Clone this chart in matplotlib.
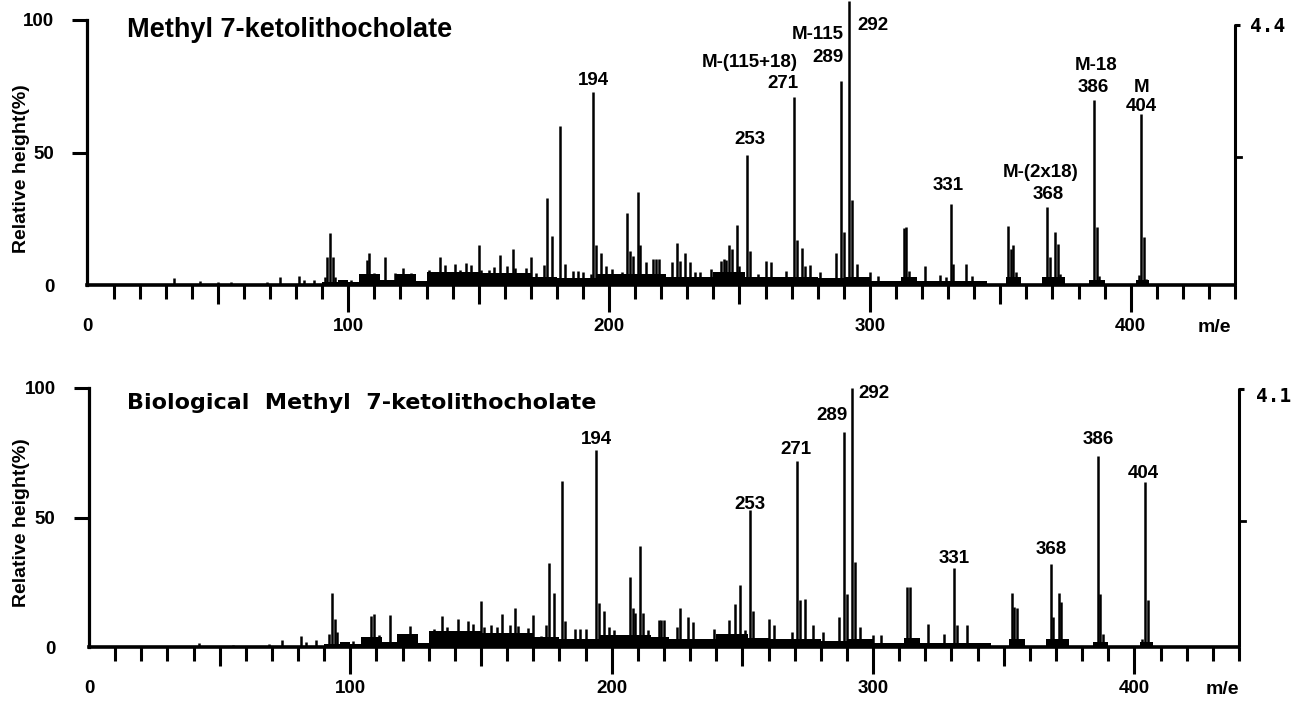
import matplotlib
matplotlib.use("Agg")
import matplotlib.pyplot as plt
import numpy as np

# ---------------- data ----------------
top_title = "Methyl 7-ketolithocholate"
bot_title = "Biological  Methyl  7-ketolithocholate"
ylabel_text = "Relative height(%)"
x_label_text = "m/e"
x_tick_values = [0, 100, 200, 300, 400]
y_tick_values = [0, 50, 100]
top_scale_label = "4.4"
bot_scale_label = "4.1"

top_mz = [33, 43, 50, 55, 69, 74, 81, 83, 87, 91, 92, 93, 94, 95, 97, 101, 105, 107, 108, 110,
          114, 118, 119, 121, 124, 131, 135, 137, 141, 143, 145, 147, 150, 151, 154, 156, 158, 161,
          163, 164, 168, 170, 172, 175, 176, 178, 181, 183, 186, 188, 190, 193, 194, 195, 197, 199,
          201, 203, 205, 207, 208, 209, 211, 212, 214, 217, 218, 219, 221, 224, 226, 227, 229, 231,
          233, 235, 239, 243, 244, 245, 246, 247, 249, 250, 253, 254, 257, 260, 262, 265, 268, 271,
          272, 274, 275, 277, 281, 287, 289, 290, 292, 293, 295, 297, 300, 303, 313, 314, 315, 319,
          321, 327, 329, 331, 332, 337, 339, 344, 353, 354, 355, 356, 368, 369, 371, 372, 373, 385,
          386, 387, 388, 403, 404, 405, 406]
top_pct = [2.5, 1.5, 1, 1.3, 1.2, 3, 3.5, 2, 2, 3, 10.5, 19.5, 10.5, 3, 2, 1.8, 3.8, 9.4, 12, 4.4,
           10.4, 4.4, 3, 6.3, 4.4, 5.5, 10.7, 7.5, 8, 5.7, 8.4, 7.5, 15, 5.7, 5.7, 6.7, 11.3, 7,
           13.5, 6.3, 6.3, 10.4, 4.4, 7.5, 33, 18.6, 60, 8, 5.4, 5.4, 5, 4, 73, 15, 12, 7,
           6, 3.5, 5, 27, 13, 11, 35, 15, 8.5, 10, 10, 10, 3, 8.5, 16, 9, 12, 8.5,
           5, 5, 6, 9, 10, 9.5, 15, 13.5, 22.6, 7, 49, 13, 4, 9, 8.5, 2, 5.4, 71,
           17, 14, 7, 7.5, 4.8, 12, 77, 20, 107, 32, 8, 3, 4.8, 3.5, 21.4, 21.8, 5.4, 1.6,
           7.3, 3.8, 3, 30.6, 8, 8, 3.5, 1, 22.4, 13.6, 15, 4.8, 29.3, 10.4, 20, 15.5, 4, 1.6,
           70, 21.8, 3.5, 3.8, 64.5, 18, 2.3]

top_floor_mz = [88, 90, 96, 100, 104, 112, 118, 126, 130, 140, 150, 160, 170, 180, 195, 205, 215,
                222, 230, 240, 252, 260, 268, 280, 290, 300, 312, 318, 330, 345, 352, 358, 366,
                375, 384, 390, 402, 407]
top_floor_pct = [0.5, 1, 2, 1, 4, 2, 4, 1.5, 5, 5, 4.5, 4.5, 3, 2.5, 4, 4, 4,
                 3, 3, 5, 3, 3, 3, 2.5, 3, 1.5, 3, 1.5, 1.5, 0.5, 3, 0.5, 3,
                 0.3, 2, 0.3, 2, 0]

bot_mz = [42, 55, 69, 74, 81, 83, 87, 92, 93, 94, 95, 101, 108, 109, 111, 115, 123, 125, 132, 135,
          137, 141, 145, 147, 150, 151, 154, 156, 158, 161, 163, 164, 168, 170, 173, 175, 176, 178,
          181, 182, 186, 188, 190, 194, 195, 197, 199, 201, 207, 208, 209, 211, 212, 214, 218, 219,
          220, 225, 226, 229, 231, 239, 245, 247, 249, 251, 253, 254, 260, 262, 269, 271, 272, 274,
          277, 281, 287, 289, 290, 292, 293, 295, 300, 303, 313, 314, 321, 327, 331, 332, 336, 353,
          354, 355, 368, 369, 371, 372, 386, 387, 388, 403, 404, 405]
bot_pct = [1.7, 0.8, 1.3, 2.8, 4.2, 1.9, 2.8, 5, 21, 11, 5.8, 2.2, 12, 12.6, 4.5, 12.5, 8, 5, 7, 12,
           7.7, 11, 10, 9, 17.8, 7.7, 8.6, 7.7, 12.9, 8.6, 15, 8, 7.3, 12.2, 4.2, 8.4, 32.6, 21,
           64, 10, 7, 7, 7, 76, 17, 14, 7.7, 6.4, 27, 15, 13, 39, 13, 6.4, 10.5, 10.5,
           10.5, 7.7, 15, 11.6, 9.7, 7, 10.5, 16.7, 23.8, 6.4, 52.8, 14, 11, 8.4, 5.8, 71.8, 18, 18.7,
           8.4, 5.8, 11.6, 83, 20.6, 100, 32.8, 7.7, 4.5, 4.5, 23, 23, 9, 5, 30.6, 8.4, 8.4, 21,
           15.4, 15, 32, 11.6, 21, 17.4, 73.6, 20.6, 5, 3, 63.7, 18]

bot_floor_mz = top_floor_mz
bot_floor_pct = [0.5, 1, 2, 1, 4, 2, 5, 1.5, 6, 6, 5.5, 5.5, 4, 3, 4.5, 4.5, 4,
                 3, 3, 5, 3.5, 3, 3, 2.5, 3, 1.5, 3.5, 1.5, 1.5, 0.5, 3, 0.5, 3,
                 0.3, 2, 0.3, 2, 0]

# peak annotations: (m/e anchor, text, height %, alignment)
top_labels = [(194, "194", 77, "center"), (254, "253", 55, "center"),
              (272.5, "M-(115+18)", 84, "right"), (272.5, "271", 76, "right"),
              (290, "M-115", 94.7, "right"), (290, "289", 85.7, "right"),
              (295.3, "292", 98, "left"), (330, "331", 37.7, "center"),
              (365.6, "M-(2x18)", 42.3, "center"), (368.3, "368", 34, "center"),
              (386.7, "M-18", 83, "center"), (385.6, "386", 74.7, "center"),
              (404, "M", 74.7, "center"), (404, "404", 67.2, "center")]
bot_labels = [(194, "194", 80.3, "center"), (253, "253", 55.2, "center"),
              (270.3, "271", 76.4, "center"), (290.1, "289", 89.2, "right"),
              (294.4, "292", 97.7, "left"), (331, "331", 34, "center"),
              (368.2, "368", 37.8, "center"), (386.2, "386", 80, "center"),
              (403.4, "404", 66.8, "center")]

# ---------------- drawing ----------------
W, H = 1291, 702
SANS = ["Liberation Sans", "DejaVu Sans"]

fig = plt.figure(figsize=(W / 100, H / 100), dpi=100)


def px_ax(left, right, base, top):
    return fig.add_axes([left / W, 1 - base / H, (right - left) / W, (base - top) / H])


def draw_panel(ax, mz, pct, fmz, fpct, labels, title, title_xy, title_font, title_size,
               scale_label, scale_xy, r_top, r_mid, ylab_xy, mlabel_xy, base_px, top_px):
    ax_h = base_px - top_px
    ax.set_xlim(0, 440)
    ax.set_ylim(0, 100)
    for s in ("top", "right"):
        ax.spines[s].set_visible(False)
    ax.spines["left"].set_linewidth(2.3)
    ax.spines["bottom"].set_linewidth(2.6)
    ax.spines["left"].set_capstyle("projecting")

    ax.fill_between(fmz, fpct, step="post", color="black", lw=0)
    ax.vlines(mz, 0, pct, colors="black", lw=1.8, clip_on=False)

    # y ticks
    ax.set_yticks(y_tick_values)
    ax.set_yticklabels([str(v) for v in y_tick_values], fontfamily=SANS,
                       fontweight="bold", fontsize=13.5)
    ax.tick_params(axis="y", direction="out", length=11, width=2.2, pad=13)
    ax.yaxis.get_major_ticks()[0].tick1line.set_visible(False)

    # x tick labels (marks drawn below)
    ax.set_xticks(x_tick_values)
    ax.set_xticklabels([str(v) for v in x_tick_values], fontfamily=SANS, fontsize=13.5,
                       fontweight="bold")
    ax.tick_params(axis="x", length=0, pad=24)

    tr = ax.get_xaxis_transform()
    tick_pos = np.arange(10, 441, 10)
    lens = np.where(tick_pos % 100 == 0, 27, np.where(tick_pos % 50 == 0, 19, 14)) / ax_h
    ax.vlines(tick_pos, -lens, 0, colors="black", lw=2.2, transform=tr, clip_on=False)

    # right-hand intensity axis
    ax.plot([440, 440, 441.8], [0, r_top, r_top], color="black", lw=2.2, clip_on=False,
            solid_capstyle="butt")
    ax.plot([440, 442.3], [r_mid, r_mid], color="black", lw=2.0, clip_on=False)

    for x, t, y, ha in labels:
        ax.text(x, y, t, ha=ha, va="center", fontfamily=SANS, fontsize=13.5,
                fontweight="bold")

    fig.text(title_xy[0] / W, 1 - title_xy[1] / H, title, ha="left", va="center",
             fontfamily=title_font, fontweight="bold", fontsize=title_size)
    fig.text(scale_xy[0] / W, 1 - scale_xy[1] / H, scale_label, ha="left", va="center",
             fontfamily="DejaVu Sans Mono", fontweight="bold", fontsize=14)
    fig.text(ylab_xy[0] / W, 1 - ylab_xy[1] / H, ylabel_text, rotation=90, ha="center",
             va="center", fontfamily=SANS, fontweight="bold", fontsize=14)
    fig.text(mlabel_xy[0] / W, 1 - mlabel_xy[1] / H, x_label_text, ha="center", va="center",
             fontfamily=SANS, fontweight="bold", fontsize=14)


ax1 = px_ax(87.5, 1235, 285, 20)
draw_panel(ax1, top_mz, top_pct, top_floor_mz, top_floor_pct, top_labels,
           top_title, (127, 30), SANS, 19.5, top_scale_label, (1250, 27), 98, 48.3,
           (22, 169), (1214, 327), 285, 20)

ax2 = px_ax(89, 1239, 647, 388)
draw_panel(ax2, bot_mz, bot_pct, bot_floor_mz, bot_floor_pct, bot_labels,
           bot_title, (127, 403), ["DejaVu Sans"], 16, bot_scale_label, (1256, 396), 99.5, 48.6,
           (22, 523), (1222, 689), 647, 388)

fig.savefig("out.png", dpi=100)
